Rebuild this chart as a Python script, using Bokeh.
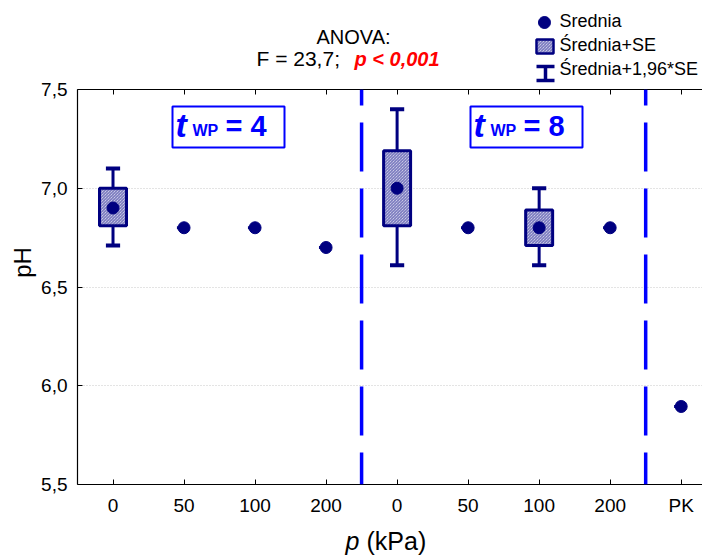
import math
import numpy as np
from bokeh.plotting import figure
from bokeh.models import FixedTicker, LinearAxis, Span
from bokeh.core.properties import value
from bokeh.embed import file_html
from bokeh.resources import INLINE

# ---------------- data ----------------
x_labels = ["0", "50", "100", "200", "0", "50", "100", "200", "PK"]
means    = [6.90, 6.80, 6.80, 6.70, 7.00, 6.80, 6.80, 6.80, 5.895]
se_lo    = [6.81, 6.80, 6.80, 6.70, 6.81, 6.80, 6.71, 6.80, 5.895]
se_hi    = [7.00, 6.80, 6.80, 6.70, 7.19, 6.80, 6.89, 6.80, 5.895]
ci_lo    = [6.71, 6.80, 6.80, 6.70, 6.61, 6.80, 6.61, 6.80, 5.895]
ci_hi    = [7.10, 6.80, 6.80, 6.70, 7.40, 6.80, 7.00, 6.80, 5.895]
y_ticks  = [5.5, 6.0, 6.5, 7.0, 7.5]
y_tick_labels = ["5,5", "6,0", "6,5", "7,0", "7,5"]
dividers = [4.5, 8.5]
anova_title = "ANOVA:"
anova_f = "F = 23,7;"
anova_p = "p < 0,001"
legend_labels = ["Srednia", "Średnia+SE", "Średnia+1,96*SE"]
group_notes = ["4", "8"]
y_title = "pH"
x_title_var = "p"
x_title_unit = "(kPa)"

pos = list(range(1, len(x_labels) + 1))

# ---------------- layout ----------------
W, H = 702, 556
L, R, T, B = 77, 702, 89, 484
X0, X1 = 0.5, 9.3
Y0, Y1 = 5.5, 7.5

def px2x(px):
    return X0 + (px - L) * (X1 - X0) / (R - L)

def py2y(py):
    return Y1 - (py - T) * (Y1 - Y0) / (B - T)

NAVY = "#000080"
BLUE = "#0000ff"
FONT = "Liberation Sans"

p = figure(width=W, height=H, x_range=(X0, X1), y_range=(Y0, Y1),
           output_backend="svg", toolbar_location=None,
           min_border_left=L, min_border_right=W - R,
           min_border_top=T, min_border_bottom=H - B)
p.outline_line_color = None
p.background_fill_color = "white"
p.border_fill_color = "white"

def txt(px, py, s, size, style="normal", color="black", align="left",
        baseline="alphabetic", angle=0.0):
    fs = float(size.replace("px", ""))
    if baseline == "alphabetic":
        py = py - 0.35 * fs
    p.text(x=[px2x(px)], y=[py2y(py)], text=[s], text_font=value(FONT),
           text_font_size=size, text_font_style=style, text_color=color,
           text_align=align, text_baseline=baseline, angle=angle, level="overlay")

# axes
p.xaxis.ticker = FixedTicker(ticks=pos)
p.xaxis.major_label_overrides = {k: v for k, v in zip(pos, x_labels)}
p.yaxis.ticker = FixedTicker(ticks=y_ticks)
p.yaxis.major_label_overrides = {k: v for k, v in zip(y_ticks, y_tick_labels)}
for ax in (p.xaxis[0], p.yaxis[0]):
    ax.major_tick_in = 5
    ax.major_tick_out = 0
    ax.minor_tick_line_color = None
    ax.axis_line_color = "black"
    ax.axis_line_width = 1.2
    ax.major_tick_line_color = "black"
    ax.major_label_text_font = FONT
    ax.major_label_text_font_size = "19px"
    ax.major_label_text_color = "black"
    ax.major_label_standoff = 10
top_ax = LinearAxis(ticker=FixedTicker(ticks=pos), major_tick_in=5, major_tick_out=0,
                    minor_tick_line_color=None,
                    major_label_overrides={k: "" for k in pos},
                    axis_line_color="black", axis_line_width=1.2)
p.add_layout(top_ax, "above")

p.xgrid.grid_line_color = None
p.ygrid.ticker = FixedTicker(ticks=y_ticks)
p.ygrid.grid_line_color = "#c8c8c8"
p.ygrid.grid_line_dash = "1 2"
p.ygrid.grid_line_width = 1

# dividers
for d in dividers:
    p.add_layout(Span(location=d, dimension="height", line_color=BLUE,
                      line_width=3.5, line_dash="49 17", line_dash_offset=33))

# data marks
HATCH = dict(fill_color="#ececf8", hatch_pattern="\\", hatch_color=NAVY,
             hatch_scale=3, hatch_weight=0.6)
big = [i for i in range(len(pos)) if se_hi[i] > se_lo[i]]
small = [i for i in range(len(pos)) if not se_hi[i] > se_lo[i]]
bx = [pos[i] for i in big]
p.segment(x0=bx, x1=bx, y0=[ci_lo[i] for i in big], y1=[ci_hi[i] for i in big],
          line_color=NAVY, line_width=3)
for yy in (ci_lo, ci_hi):
    p.segment(x0=[x - 0.1 for x in bx], x1=[x + 0.1 for x in bx],
              y0=[yy[i] for i in big], y1=[yy[i] for i in big],
              line_color=NAVY, line_width=4)
p.quad(left=[x - 0.19 for x in bx], right=[x + 0.19 for x in bx],
       bottom=[se_lo[i] for i in big], top=[se_hi[i] for i in big],
       line_color=NAVY, line_width=3, **HATCH)
sx = [pos[i] for i in small]
p.segment(x0=[x - 0.1 for x in sx], x1=sx, y0=[means[i] for i in small],
          y1=[means[i] for i in small], line_color=NAVY, line_width=3)
p.scatter(pos, means, size=12, color=NAVY)

# group notes
for k, note in enumerate(group_notes):
    off = 298 * k
    p.quad(left=[px2x(172 + off)], right=[px2x(284 + off)],
           bottom=[py2y(147)], top=[py2y(106)],
           fill_color="white", line_color=BLUE, line_width=2)
    txt(175 + off, 136, "t", "34px", style="bold italic", color=BLUE)
    txt(192 + off, 136, "WP", "16px", style="bold", color=BLUE)
    txt(225 + off, 136, "= " + note, "29px", style="bold", color=BLUE)

# title (ANOVA)
txt(353, 43, anova_title, "20px", align="center")
txt(256, 65, anova_f, "21px")
txt(354, 65, anova_p, "20px", style="bold italic", color="#ff0000")

# legend (outside the frame)
ang = np.linspace(0, 2 * np.pi, 40)
p.patch(x=[px2x(544 + 6 * math.cos(a)) for a in ang],
        y=[py2y(22 + 6 * math.sin(a)) for a in ang],
        fill_color=NAVY, line_color=NAVY, level="overlay")
p.quad(left=[px2x(536)], right=[px2x(553)], bottom=[py2y(53)], top=[py2y(39)],
       line_color=NAVY, line_width=2.5, level="overlay", **HATCH)
p.segment(x0=[px2x(545), px2x(536), px2x(536)], x1=[px2x(545), px2x(554), px2x(554)],
          y0=[py2y(66), py2y(66), py2y(80)], y1=[py2y(80), py2y(66), py2y(80)],
          line_color=NAVY, line_width=3.5, level="overlay")
for s, base in zip(legend_labels, (27, 51, 75)):
    txt(559, base, s, "18px")

# axis titles
txt(22, 262, y_title, "24px", align="center", baseline="middle", angle=math.pi / 2)
txt(345, 549, x_title_var, "25px", style="italic")
txt(366, 549, x_title_unit, "25px")

open("out.html", "w").write(file_html(p, INLINE))
